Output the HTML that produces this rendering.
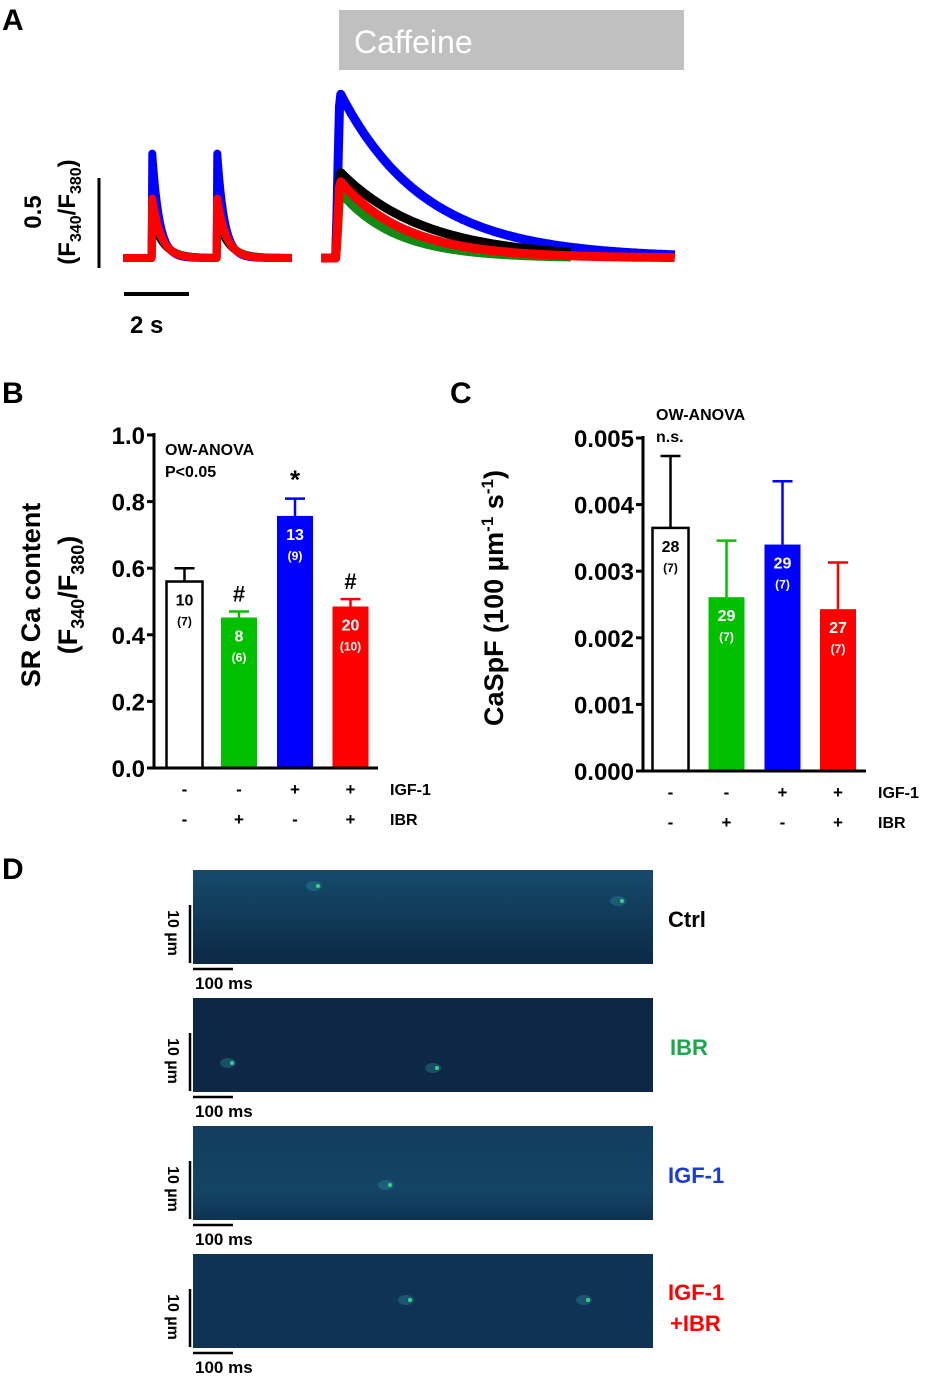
<!DOCTYPE html>
<html><head><meta charset="utf-8">
<style>
html,body{margin:0;padding:0;background:#fff;}
svg{display:block;font-family:"Liberation Sans",Arial,sans-serif;}
.b{font-weight:bold;}
</style></head>
<body>
<svg id="fig" width="925" height="1376" viewBox="0 0 925 1376">
<defs>
<linearGradient id="g1" x1="0" y1="0" x2="0" y2="1"><stop offset="0" stop-color="#154a6c"/><stop offset="0.35" stop-color="#123f5e"/><stop offset="1" stop-color="#0b2944"/></linearGradient>
<linearGradient id="g3" x1="0" y1="0" x2="0" y2="1"><stop offset="0" stop-color="#123d5e"/><stop offset="0.7" stop-color="#134466"/><stop offset="1" stop-color="#0e3352"/></linearGradient>
</defs>
<g id="panelA">
<text x="2" y="30" class="b" font-size="30">A</text>
<rect x="339" y="10" width="345" height="60" fill="#c0c0c0"/>
<text x="354" y="53" font-size="32" fill="#fff">Caffeine</text>
<g id="traces"></g>
<line x1="99" y1="178" x2="99" y2="268" stroke="#000" stroke-width="3"/>
<line x1="124" y1="294" x2="189" y2="294" stroke="#000" stroke-width="4"/>
<text x="130" y="333" class="b" font-size="24">2 s</text>
<text transform="translate(41,212) rotate(-90)" text-anchor="middle" class="b" font-size="24">0.5</text>
<text transform="translate(75,212) rotate(-90)" text-anchor="middle" class="b" font-size="24">(F<tspan font-size="16" dy="6">340</tspan><tspan dy="-6">/F</tspan><tspan font-size="16" dy="6">380</tspan><tspan dy="-6">)</tspan></text>
</g>
<g id="panelB">
<text x="2" y="403" class="b" font-size="30">B</text>
<text transform="translate(40,595) rotate(-90)" text-anchor="middle" class="b" font-size="27">SR Ca content</text>
<text transform="translate(77,595) rotate(-90)" text-anchor="middle" class="b" font-size="27">(F<tspan font-size="18" dy="7">340</tspan><tspan dy="-7">/F</tspan><tspan font-size="18" dy="7">380</tspan><tspan dy="-7">)</tspan></text>
<text x="165" y="455" class="b" font-size="16">OW-ANOVA</text>
<text x="165" y="477" class="b" font-size="16">P&lt;0.05</text>
</g>
<g id="panelC">
<text x="450" y="403" class="b" font-size="30">C</text>
<text transform="translate(503,598) rotate(-90)" text-anchor="middle" class="b" font-size="27">CaSpF (100 µm<tspan font-size="17" dy="-10">-1</tspan><tspan dy="10"> s</tspan><tspan font-size="17" dy="-10">-1</tspan><tspan dy="10">)</tspan></text>
<text x="656" y="420" class="b" font-size="16">OW-ANOVA</text>
<text x="656" y="442" class="b" font-size="16">n.s.</text>
</g>
<g id="panelD">
<text x="2" y="879" class="b" font-size="30">D</text>
</g>
</svg>
<script>
const NS="http://www.w3.org/2000/svg";
function mk(parent,tag,attrs,text){const e=document.createElementNS(NS,tag);for(const k in attrs)e.setAttribute(k,attrs[k]);if(text!==undefined)e.textContent=text;parent.appendChild(e);return e;}

// ---------- Panel A data (ratio units, 0.5 = 90px) ----------
const traceNames=["blue","black","green","red"];
const traceColors=["#0000ff","#000000","#138a13","#ff0000"];
const twitchAmp=[0.58,0.22,0.30,0.33];
const twitchTau=[0.22,0.35,0.30,0.28];
const caffAmp=[0.92,0.48,0.37,0.43];
const caffTau=[2.6,2.6,1.7,2.0];
const caffEnd=[10.9,7.7,7.7,10.9];
const baseline=0.0;
(function(){
  const g=document.getElementById('traces');
  const x0=123,pxs=32.5,y0=258,pyu=180;
  const X=t=>x0+t*pxs, Y=v=>y0-v*pyu;
  const twitchTimes=[0.9,2.9];
  for(let i=0;i<4;i++){
    let d="";
    for(let t=0;t<=5.2;t+=0.02){
      let v=baseline;
      for(const tt of twitchTimes){ if(t>=tt){ v+=twitchAmp[i]*Math.exp(-(t-tt)/twitchTau[i]); } }
      d+=(d?"L":"M")+X(t).toFixed(1)+","+Y(v).toFixed(1);
    }
    let d2="";
    for(let t=6.1;t<=caffEnd[i]+6.1;t+=0.04){
      const tc=6.55; let v=baseline;
      if(t>=tc){ const r=Math.min(1,(t-tc)/0.12); v+=caffAmp[i]*r*Math.exp(-Math.max(0,t-tc-0.12)/caffTau[i]); }
      d2+=(d2?"L":"M")+X(t).toFixed(1)+","+Y(v).toFixed(1);
    }
    const p=mk(g,'path',{d:d,fill:'none',stroke:traceColors[i],'stroke-width':8,'stroke-linejoin':'round'});
    
    
    const p2=mk(g,'path',{d:d2,fill:'none',stroke:traceColors[i],'stroke-width':9,'stroke-linejoin':'round'});
    
    
  }
})();

// ---------- Bar chart data ----------
const groupColors=["#ffffff","#00c000","#0000ff","#ff0000"];
const igfSigns=["-","-","+","+"];
const ibrSigns=["-","+","-","+"];
const srValues=[0.56,0.452,0.757,0.485];
const srErrors=[0.04,0.018,0.052,0.022];
const srN=["10","8","13","20"];
const srAnimals=["(7)","(6)","(9)","(10)"];
const srMarks=["","#","*","#"];
const srTicks=["0.0","0.2","0.4","0.6","0.8","1.0"];
const spValues=[0.00365,0.00261,0.0034,0.00243];
const spErrors=[0.00108,0.00085,0.00095,0.0007];
const spN=["28","29","29","27"];
const spAnimals=["(7)","(7)","(7)","(7)"];
const spTicks=["0.000","0.001","0.002","0.003","0.004","0.005"];

function barChart(gid,o){
  const g=document.getElementById(gid);
  const Y=v=>o.y0-(v/o.vmax)*(o.y0-o.ytop);
  const ay=mk(g,'line',{x1:o.ax,y1:o.ytop-2,x2:o.ax,y2:o.y0+1,stroke:'#000','stroke-width':3});
  
  o.ticks.forEach((t,i)=>{
    const v=o.vmax*i/(o.ticks.length-1);
    const tl=mk(g,'line',{x1:o.ax-7,y1:Y(v),x2:o.ax,y2:Y(v),stroke:'#000','stroke-width':3});
    
    const tx=mk(g,'text',{x:o.ax-9,y:Y(v)+9,'text-anchor':'end','font-size':24,'font-weight':'bold'},t);
    
  });
  o.values.forEach((v,i)=>{
    const cx=o.cx[i],w=36;
    const e=mk(g,'line',{x1:cx,y1:Y(v),x2:cx,y2:Y(v+o.errors[i]),stroke:i==0?'#000':groupColors[i],'stroke-width':2.5});
    
    const ec=mk(g,'line',{x1:cx-10,y1:Y(v+o.errors[i]),x2:cx+10,y2:Y(v+o.errors[i]),stroke:i==0?'#000':groupColors[i],'stroke-width':2.5});
    
    const r=mk(g,'rect',{x:cx-w/2,y:Y(v),width:w,height:o.y0-Y(v),fill:groupColors[i],stroke:i==0?'#000':'none','stroke-width':2.5});
    
    const tc=i==0?'#000':'#fff';
    const n=mk(g,'text',{x:cx,y:Y(v)+24,'text-anchor':'middle','font-size':16,'font-weight':'bold',fill:tc},o.n[i]);
    
    const a=mk(g,'text',{x:cx,y:Y(v)+44,'text-anchor':'middle','font-size':12,'font-weight':'bold',fill:tc},o.animals[i]);
    
    if(o.marks&&o.marks[i]){
      const m=mk(g,'text',{x:cx,y:Y(v+o.errors[i])-10,'text-anchor':'middle','font-size':o.marks[i]=='*'?26:22,'font-weight':'bold'},o.marks[i]);
      
    }
    const s1=mk(g,'text',{x:cx,y:o.y0+27,'text-anchor':'middle','font-size':17,'font-weight':'bold'},igfSigns[i]);
    
    const s2=mk(g,'text',{x:cx,y:o.y0+57,'text-anchor':'middle','font-size':17,'font-weight':'bold'},ibrSigns[i]);
    
  });
  const ax=mk(g,'line',{x1:o.ax-7,y1:o.y0,x2:o.xend,y2:o.y0,stroke:'#000','stroke-width':3});
  
  const l1=mk(g,'text',{x:o.lx,y:o.y0+27,'font-size':16,'font-weight':'bold'},'IGF-1');
  
  const l2=mk(g,'text',{x:o.lx,y:o.y0+57,'font-size':16,'font-weight':'bold'},'IBR');
  
}
barChart('panelB',{tag:'b',ax:154,y0:768,ytop:435,vmax:1.0,xend:378,lx:390,cx:[184.5,239,295,350.5],values:srValues,errors:srErrors,n:srN,animals:srAnimals,marks:srMarks,ticks:srTicks});
barChart('panelC',{tag:'c',ax:643,y0:771,ytop:438,vmax:0.005,xend:866,lx:878,cx:[670.5,726.5,782.5,838],values:spValues,errors:spErrors,n:spN,animals:spAnimals,marks:null,ticks:spTicks});

// ---------- Panel D ----------
const imgTops=[870,998,1126,1254];
(function(){
  const g=document.getElementById('panelD');
  const fills=["url(#g1)","#0d2744","url(#g3)","#0f3453"];
  imgTops.forEach((y,i)=>{
    const r=mk(g,'rect',{x:193,y:y,width:460,height:94,fill:fills[i]});
    
    const v=mk(g,'line',{x1:190,y1:y+35,x2:190,y2:y+93,stroke:'#000','stroke-width':2.5});
    
    const h=mk(g,'line',{x1:193,y1:y+99,x2:233,y2:y+99,stroke:'#000','stroke-width':2.5});
    
    const t=mk(g,'text',{x:195,y:y+119,'font-size':17,'font-weight':'bold'},'100 ms');
    
    const u=mk(g,'text',{transform:'translate(168,'+(y+63)+') rotate(90)','text-anchor':'middle','font-size':16,'font-weight':'bold'},'10 µm');
    
  });
  const sparks=[[318,886],[622,901],[232,1063],[437,1068],[390,1185],[410,1300],[588,1300]];
  sparks.forEach(s=>{const c=mk(g,'ellipse',{cx:s[0]-4,cy:s[1],rx:8,ry:5,fill:'#2a8a9a','fill-opacity':0.4});
    
    const c2=mk(g,'circle',{cx:s[0],cy:s[1],r:2,fill:'#3ad08a'});
    });
  const lbl=[[668,927,'Ctrl'],[670,1055,'IBR'],[668,1183,'IGF-1'],[668,1300,'IGF-1'],[670,1331,'+IBR']];
  const cols=["#000","#1aa84a","#1a3bd6","#ff0000","#ff0000"];
  lbl.forEach((l,i)=>{const t=mk(g,'text',{x:l[0],y:l[1],'font-size':22,'font-weight':'bold',fill:cols[i]},l[2]);
    });
})();
</script>
</body></html>
